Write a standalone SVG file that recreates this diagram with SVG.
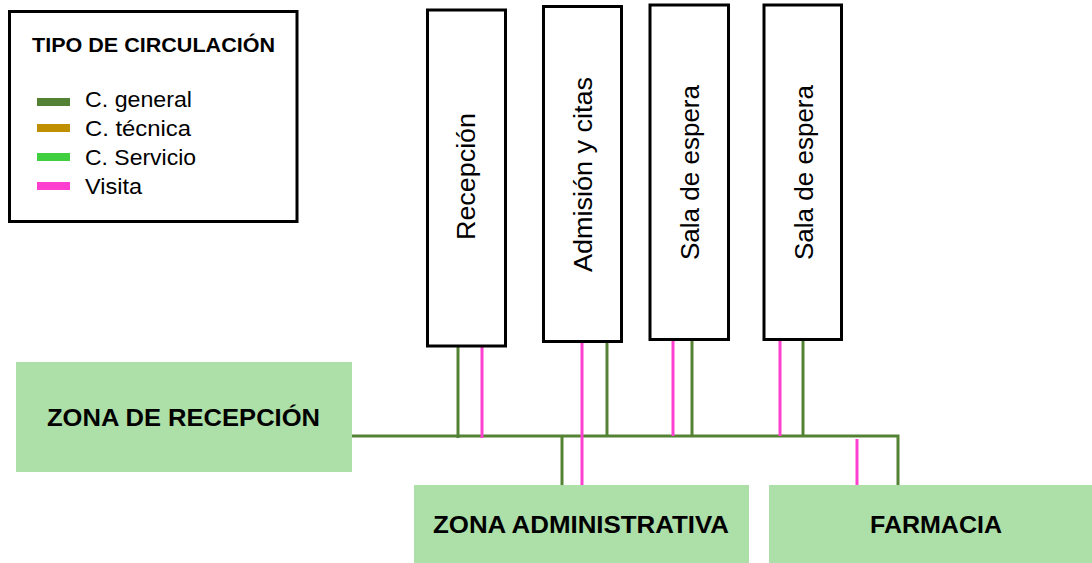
<svg xmlns="http://www.w3.org/2000/svg" width="1092" height="563" viewBox="0 0 1092 563">
  <style>
    .room { fill: #ffffff; stroke: #000000; stroke-width: 3; }
    .zone { fill: #ADDFA8; }
    .room-label { font-family: "Liberation Sans", Arial, sans-serif; font-size: 25px; fill: #000000; text-anchor: middle; }
    .zone-label { font-family: "Liberation Sans", Arial, sans-serif; font-weight: bold; font-size: 24px; fill: #000000; text-anchor: middle; }
    .legend-title { font-family: "Liberation Sans", Arial, sans-serif; font-weight: bold; font-size: 20px; fill: #000000; }
    .legend-text { font-family: "Liberation Sans", Arial, sans-serif; font-size: 22px; fill: #000000; }
    .general { stroke: #548235; stroke-width: 3; fill: none; }
    .visita { stroke: #FF3FCF; stroke-width: 3; fill: none; }
  </style>

  <!-- legend -->
  <g id="legend">
    <rect x="9.5" y="11.5" width="287.5" height="210" fill="#ffffff" stroke="#000000" stroke-width="3"/>
    <text class="legend-title" x="32" y="52" textLength="243" lengthAdjust="spacingAndGlyphs">TIPO DE CIRCULACIÓN</text>
    <rect x="37" y="98" width="33" height="8" fill="#548235"/>
    <text class="legend-text" x="85" y="107" textLength="107" lengthAdjust="spacingAndGlyphs">C. general</text>
    <rect x="37" y="124" width="33" height="8" fill="#BF8F00"/>
    <text class="legend-text" x="85" y="136" textLength="106" lengthAdjust="spacingAndGlyphs">C. técnica</text>
    <rect x="37" y="153" width="33" height="8" fill="#3FCF3F"/>
    <text class="legend-text" x="85" y="165" textLength="111" lengthAdjust="spacingAndGlyphs">C. Servicio</text>
    <rect x="37" y="182" width="33" height="8" fill="#FF3FCF"/>
    <text class="legend-text" x="85" y="194" textLength="57" lengthAdjust="spacingAndGlyphs">Visita</text>
  </g>

  <!-- connectors -->
  <g id="connectors">
    <!-- general circulation -->
    <polyline class="general" points="352,436 898,436 898,485"/>
    <line class="general" x1="458" y1="347" x2="458" y2="438"/>
    <line class="general" x1="607" y1="342" x2="607" y2="436"/>
    <line class="general" x1="692" y1="340" x2="692" y2="436"/>
    <line class="general" x1="803" y1="340" x2="803" y2="436"/>
    <line class="general" x1="562" y1="436" x2="562" y2="485"/>
    <!-- visits -->
    <line class="visita" x1="482" y1="347" x2="482" y2="438"/>
    <line class="visita" x1="582" y1="342" x2="582" y2="485"/>
    <line class="visita" x1="673" y1="340" x2="673" y2="436"/>
    <line class="visita" x1="780" y1="340" x2="780" y2="436"/>
    <line class="visita" x1="857" y1="439" x2="857" y2="488"/>
  </g>

  <!-- rooms -->
  <g id="recepcion">
    <rect class="room" x="427.5" y="10" width="78" height="336"/>
    <text class="room-label" transform="translate(475 176.5) rotate(-90)" textLength="127" lengthAdjust="spacingAndGlyphs">Recepción</text>
  </g>
  <g id="admision">
    <rect class="room" x="543.5" y="6.5" width="78" height="335"/>
    <text class="room-label" transform="translate(592 174.5) rotate(-90)" textLength="195" lengthAdjust="spacingAndGlyphs">Admisión y citas</text>
  </g>
  <g id="sala-espera-1">
    <rect class="room" x="650" y="5" width="78.5" height="334.5"/>
    <text class="room-label" transform="translate(699 172.5) rotate(-90)" textLength="175" lengthAdjust="spacingAndGlyphs">Sala de espera</text>
  </g>
  <g id="sala-espera-2">
    <rect class="room" x="764" y="5" width="77.5" height="334.5"/>
    <text class="room-label" transform="translate(813 172.5) rotate(-90)" textLength="175" lengthAdjust="spacingAndGlyphs">Sala de espera</text>
  </g>

  <!-- zones -->
  <g id="zona-recepcion">
    <rect class="zone" x="16" y="362" width="336" height="110"/>
    <text class="zone-label" x="183.5" y="426" style="font-size:23px" textLength="273" lengthAdjust="spacingAndGlyphs">ZONA DE RECEPCIÓN</text>
  </g>
  <g id="zona-administrativa">
    <rect class="zone" x="414" y="485" width="335" height="78"/>
    <text class="zone-label" x="581" y="533" textLength="296" lengthAdjust="spacingAndGlyphs">ZONA ADMINISTRATIVA</text>
  </g>
  <g id="farmacia">
    <rect class="zone" x="769" y="485" width="323" height="78"/>
    <text class="zone-label" x="936" y="533" textLength="132" lengthAdjust="spacingAndGlyphs">FARMACIA</text>
  </g>
</svg>
